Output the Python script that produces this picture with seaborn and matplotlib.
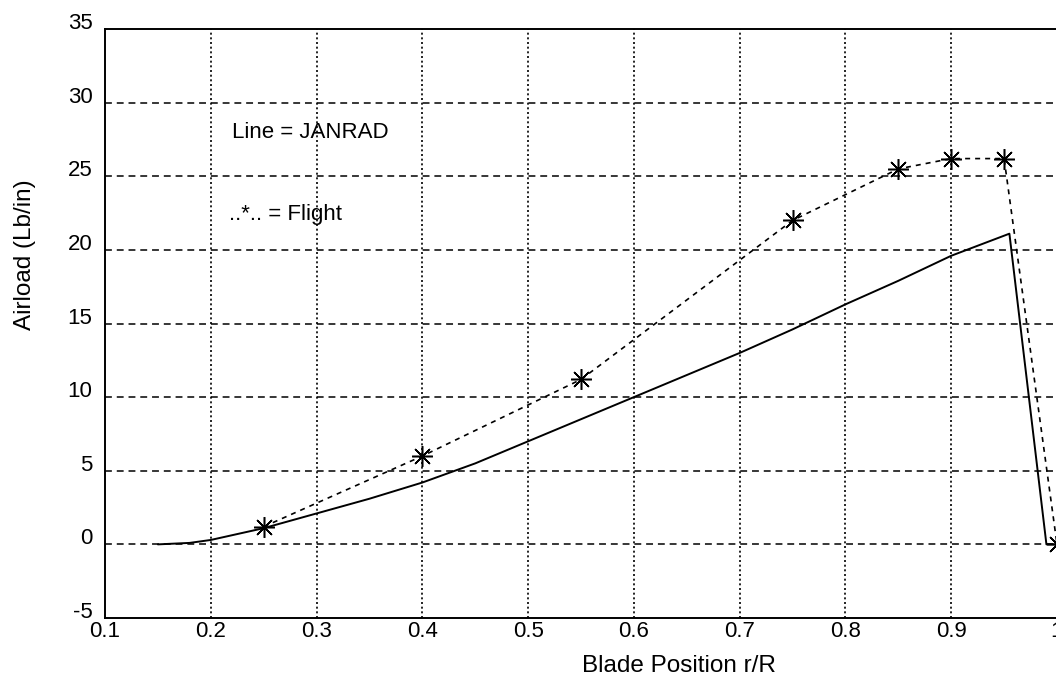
import matplotlib
matplotlib.use("Agg")
import matplotlib.pyplot as plt
import matplotlib.transforms as mtransforms
import seaborn as sns
import pandas as pd

# JANRAD prediction (solid line)
janrad_x = [0.15, 0.18, 0.2, 0.25, 0.3, 0.35, 0.4, 0.45, 0.5, 0.55, 0.6, 0.65, 0.7, 0.75, 0.8, 0.85, 0.9, 0.955, 0.99, 1.0]
janrad_y = [0.0, 0.1, 0.3, 1.1, 2.1, 3.1, 4.2, 5.5, 7.0, 8.5, 10.0, 11.5, 13.0, 14.6, 16.3, 17.9, 19.6, 21.1, 0.0, 0.0]

# Flight data (dotted line with asterisks)
flight_x = [0.25, 0.4, 0.55, 0.75, 0.85, 0.9, 0.95, 1.0]
flight_y = [1.2, 6.0, 11.2, 22.0, 25.5, 26.2, 26.2, 0.0]

x_ticks = [0.1, 0.2, 0.3, 0.4, 0.5, 0.6, 0.7, 0.8, 0.9, 1.0]
x_tick_labels = ["0.1", "0.2", "0.3", "0.4", "0.5", "0.6", "0.7", "0.8", "0.9", "1"]
y_ticks = [-5, 0, 5, 10, 15, 20, 25, 30, 35]
y_tick_labels = ["-5", "0", "5", "10", "15", "20", "25", "30", "35"]

sns.set_style("white")
plt.rcParams['font.family'] = ['Liberation Sans', 'DejaVu Sans']
plt.rcParams['axes.unicode_minus'] = False
plt.rcParams['text.color'] = 'black'
plt.rcParams['axes.labelcolor'] = 'black'

fig = plt.figure(figsize=(10.56, 6.83), dpi=100)
ax = fig.add_axes([105/1056, 65/683, 952/1056, 589/683])

df_j = pd.DataFrame({"x": janrad_x, "y": janrad_y})
df_f = pd.DataFrame({"x": flight_x, "y": flight_y})

sns.lineplot(data=df_j, x="x", y="y", ax=ax, color="black", lw=1.4, sort=False,
             estimator=None)
sns.lineplot(data=df_f, x="x", y="y", ax=ax, color="black", lw=1.2, sort=False,
             estimator=None, dashes=False, linestyle=(0, (3.0, 3.0)),
             marker=(8, 2, 0), markersize=15, markeredgewidth=1.1,
             markeredgecolor="black")

ax.set_xlim(0.1, 1.0)
ax.set_ylim(-5, 35)
ax.set_xticks(x_ticks)
ax.set_xticklabels(x_tick_labels)
ax.set_yticks(y_ticks)
ax.set_yticklabels(y_tick_labels)

for y in y_ticks[1:-1]:
    ax.axhline(y, color="black", lw=1.1, ls=(0, (4.5, 3.2)), zorder=0)
for x in x_ticks[1:-1]:
    ax.axvline(x, color="black", lw=1.2, ls=(0, (1.2, 1.6)), zorder=0)

for s in ["left", "bottom", "top"]:
    ax.spines[s].set_visible(True)
    ax.spines[s].set_color("black")
    ax.spines[s].set_linewidth(1.4)
ax.spines["right"].set_visible(False)

ax.tick_params(axis="both", direction="in", length=5, width=1.2, labelsize=16,
               colors="black")
ax.tick_params(axis="x", pad=2)
ax.tick_params(axis="y", pad=9)

# y tick labels sit slightly above their ticks in the reference
offset = mtransforms.ScaledTranslation(0, 0.08, fig.dpi_scale_trans)
for lab in ax.get_yticklabels():
    lab.set_transform(lab.get_transform() + offset)

ax.set_xlabel("Blade Position r/R", fontsize=17.5)
ax.set_ylabel("Airload (Lb/in)", fontsize=17.5)
ax.xaxis.set_label_coords(0.603, -0.063)
ax.yaxis.set_label_coords(-0.073, 0.616)

ax.text(0.22, 28.0, "Line = JANRAD", fontsize=16, va="center", ha="left")
ax.text(0.217, 22.4, "..*.. = Flight", fontsize=16, va="center", ha="left")

fig.savefig("out.png", dpi=100)
